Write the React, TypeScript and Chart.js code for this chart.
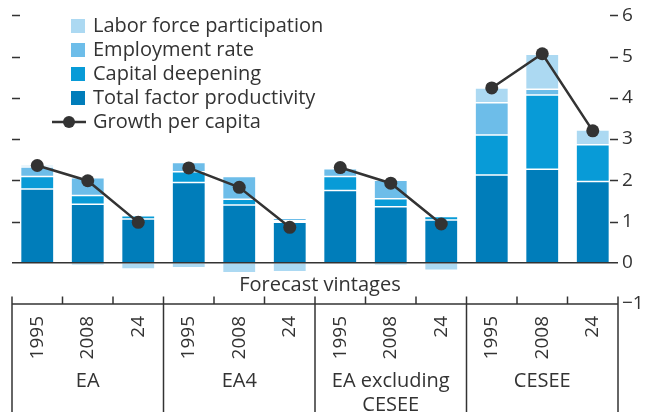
import React, { useEffect, useRef } from "react";
import { Chart, registerables } from "chart.js";

Chart.register(...registerables);

const vintages = ["1995", "2008", "24", "1995", "2008", "24", "1995", "2008", "24", "1995", "2008", "24"];
const groups = [["EA"], ["EA4"], ["EA excluding", "CESEE"], ["CESEE"]];
const tfp = [1.79, 1.42, 1.06, 1.95, 1.40, 0.98, 1.75, 1.36, 1.04, 2.13, 2.27, 1.97];
const capital = [0.30, 0.21, 0.08, 0.26, 0.14, 0.04, 0.34, 0.19, 0.08, 0.97, 1.80, 0.89];
const employment = [0.23, 0.43, 0.0, 0.22, 0.55, 0.06, 0.19, 0.45, 0.0, 0.78, 0.14, 0.0];
const labor = [0.05, -0.06, -0.15, -0.12, -0.24, -0.22, 0.0, -0.06, -0.18, 0.36, 0.85, 0.36];
const growth = [2.36, 1.99, 0.98, 2.30, 1.83, 0.86, 2.31, 1.93, 0.94, 4.24, 5.07, 3.20];
const axisTitle = "Forecast vintages";

const C_LABOR = "#acd9f2";
const C_EMP = "#6dbde9";
const C_CAP = "#089bd7";
const C_TFP = "#007dba";
const INK = "#333333";
const FONT = "'Open Sans'";

const legendItems = [
  { label: "Labor force participation", color: C_LABOR, type: "box" },
  { label: "Employment rate", color: C_EMP, type: "box" },
  { label: "Capital deepening", color: C_CAP, type: "box" },
  { label: "Total factor productivity", color: C_TFP, type: "box" },
  { label: "Growth per capita", color: INK, type: "line" },
];

const decorPlugin = {
  id: "decor",
  afterDatasetsDraw(chart: any) {
    const { ctx, chartArea, scales } = chart;
    const y = scales.y;
    const y0 = y.getPixelForValue(0);
    ctx.save();
    ctx.strokeStyle = INK;
    ctx.lineWidth = 1.5;
    ctx.beginPath();
    ctx.moveTo(chartArea.left, y0);
    ctx.lineTo(chartArea.right, y0);
    ctx.stroke();
    ctx.restore();
  },
  afterDraw(chart: any) {
    const { ctx, chartArea, scales } = chart;
    const x = scales.x;
    const y = scales.y;
    const { left, right, bottom } = chartArea;
    ctx.save();
    ctx.strokeStyle = INK;
    ctx.fillStyle = INK;
    ctx.lineWidth = 1.5;
    for (let v = 1; v <= 6; v++) {
      const py = Math.round(y.getPixelForValue(v)) + 0.5;
      ctx.beginPath();
      ctx.moveTo(left, py);
      ctx.lineTo(left + 8, py);
      ctx.moveTo(right - 8, py);
      ctx.lineTo(right, py);
      ctx.stroke();
    }
    const yb = bottom;
    ctx.beginPath();
    ctx.moveTo(left, yb);
    ctx.lineTo(right, yb);
    ctx.stroke();
    const n = vintages.length;
    const bounds: number[] = [];
    for (let i = 0; i <= n; i++) {
      let bx;
      if (i === 0) bx = left;
      else if (i === n) bx = right;
      else bx = (x.getPixelForValue(i - 1) + x.getPixelForValue(i)) / 2;
      bounds.push(bx);
      ctx.beginPath();
      ctx.moveTo(bx, yb - 7.5);
      if (i % 3 === 0) ctx.lineTo(bx, 412);
      else ctx.lineTo(bx, yb);
      ctx.stroke();
    }
    ctx.font = `19px ${FONT}`;
    for (let i = 0; i < n; i++) {
      const cx = x.getPixelForValue(i);
      ctx.save();
      ctx.translate(cx, yb + 12);
      ctx.rotate(-Math.PI / 2);
      ctx.textAlign = "right";
      ctx.textBaseline = "middle";
      ctx.fillText(vintages[i], 0, 0);
      ctx.restore();
    }
    ctx.font = `20px ${FONT}`;
    ctx.textAlign = "center";
    ctx.textBaseline = "middle";
    groups.forEach((lines, g) => {
      const cx = (bounds[g * 3] + bounds[g * 3 + 3]) / 2;
      lines.forEach((t, k) => ctx.fillText(t, cx, yb + 77 + k * 24));
    });
    ctx.fillText(axisTitle, (left + right) / 2 + 5, yb - 19);
    ctx.textAlign = "left";
    legendItems.forEach((it, k) => {
      const cy = 26 + k * 24;
      if (it.type === "box") {
        ctx.fillStyle = it.color;
        ctx.fillRect(71, cy - 7, 14, 14);
      } else {
        ctx.strokeStyle = it.color;
        ctx.lineWidth = 2.5;
        ctx.beginPath();
        ctx.moveTo(52, cy);
        ctx.lineTo(86, cy);
        ctx.stroke();
        ctx.fillStyle = it.color;
        ctx.beginPath();
        ctx.arc(69, cy, 6, 0, Math.PI * 2);
        ctx.fill();
      }
      ctx.fillStyle = INK;
      ctx.fillText(it.label, 93, cy);
    });
    ctx.restore();
  },
};

export default function App() {
  const ref = useRef<HTMLCanvasElement>(null);
  useEffect(() => {
    if (!ref.current) return;
    const barCommon = {
      type: "bar" as const,
      order: 1,
      stack: "bars",
      barPercentage: 0.66,
      categoryPercentage: 1,
      borderWidth: 0.75,
      borderColor: "rgba(255,255,255,0.3)",
      borderSkipped: false,
    };
    const chart = new Chart(ref.current, {
      type: "bar",
      data: {
        labels: vintages,
        datasets: [
          {
            type: "line",
            label: "Growth per capita",
            data: growth,
            order: 0,
            stack: "line",
            borderColor: INK,
            borderWidth: 2.5,
            pointRadius: 6.5,
            pointBackgroundColor: INK,
            pointBorderWidth: 0,
            segment: {
              borderColor: (c: any) => (c.p1DataIndex % 3 === 0 ? "rgba(0,0,0,0)" : INK),
            },
          } as any,
          { ...barCommon, label: "Total factor productivity", data: tfp, backgroundColor: C_TFP },
          { ...barCommon, label: "Capital deepening", data: capital, backgroundColor: C_CAP },
          { ...barCommon, label: "Employment rate", data: employment, backgroundColor: C_EMP },
          { ...barCommon, label: "Labor force participation", data: labor, backgroundColor: C_LABOR },
        ],
      },
      options: {
        animation: false,
        responsive: true,
        maintainAspectRatio: false,
        layout: { padding: { left: 12, top: 15, bottom: 110, right: 0 } },
        plugins: { legend: { display: false }, tooltip: { enabled: false } },
        scales: {
          x: { display: false, offset: true, stacked: true },
          y: {
            position: "right",
            min: -1,
            max: 6,
            stacked: true,
            grid: { display: false, drawTicks: false },
            border: { display: false },
            afterFit: (s: any) => {
              s.width = 39;
            },
            ticks: {
              stepSize: 1,
              padding: 4,
              color: INK,
              font: { family: "Open Sans", size: 19 },
              callback: (v: any) => (v < 0 ? "\u2212" + Math.abs(v) : String(v)),
            },
          },
        },
      },
      plugins: [decorPlugin],
    });
    return () => chart.destroy();
  }, []);
  return (
    <div style={{ position: "absolute", left: 0, top: 0, width: 657, height: 414, background: "#fff" }}>
      <canvas ref={ref} />
    </div>
  );
}
